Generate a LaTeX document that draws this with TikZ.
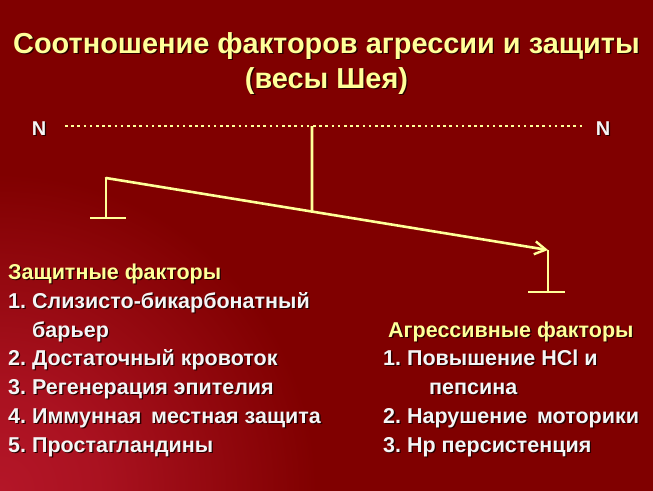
\documentclass[tikz,border=0pt]{standalone}
\usepackage{fontspec}
\setmainfont{Liberation Sans}
\usetikzlibrary{arrows.meta,calc}
\definecolor{bgc}{RGB}{128,0,0}
\definecolor{bgl}{RGB}{180,22,40}
\definecolor{ylw}{RGB}{255,255,153}
\definecolor{wht}{RGB}{245,245,245}
\definecolor{shadowc}{RGB}{40,0,0}
\pgfdeclareradialshading{bgshade}{\pgfpoint{0bp}{0bp}}{color(0bp)=(bgl); color(7bp)=(bgl!80!bgc); color(22bp)=(bgc); color(25bp)=(bgc); color(50bp)=(bgc)}
\newcommand\shd[1]{\leavevmode\rlap{\kern1.3pt\raisebox{-1.3pt}{\color{shadowc}#1}}#1}
\frenchspacing
\tikzset{
  titletext/.style={font=\bfseries\fontsize{28.9}{34}\selectfont, text=ylw, anchor=base, inner sep=0pt},
  bodytext/.style={font=\bfseries\fontsize{21.5}{28.8}\selectfont, text=wht, anchor=base west, inner sep=0pt},
  headtext/.style={bodytext, text=ylw},
  ntext/.style={font=\bfseries\fontsize{20}{24}\selectfont, text=wht, anchor=base, inner sep=0pt},
  beam/.style={draw=ylw, line width=2.6pt},
  dotline/.style={draw=ylw, line width=2.5pt, dash pattern=on 2.5pt off 3.7pt}
}
\begin{document}
\begin{tikzpicture}[x=1pt,y=-1pt]
\useasboundingbox (0,0) rectangle (653,490);
% background
\path[fill=bgc] (-6,-6) rectangle (659,496);
\begin{scope}
  \clip (-6,-6) rectangle (659,496);
  \shade[shading=bgshade] (-360,130) rectangle (360,850);
\end{scope}

% title
\node[titletext] (title1) at (326.5,53) {\shd{Соотношение факторов агрессии и защиты}};
\node[titletext] (title2) at (326.5,88) {\shd{(весы Шея)}};

% N labels and dotted line
\node[ntext] (nL) at (39,135) {\shd{N}};
\node[ntext] (nR) at (603,135) {\shd{N}};
\coordinate (dL) at (65,126);
\coordinate (dR) at (584,126);
\draw[dotline] (dL) -- (dR);

% balance
\coordinate (bL) at (106,178);
\coordinate (bR) at (548,250);
\coordinate (pivTop) at (312,126);
\coordinate (pivBot) at ($(bL)!{(312-106)/442}!(bR)$);
\coordinate (lFoot) at (106,218);
\coordinate (lFootA) at (90,218);
\coordinate (lFootB) at (126,218);
\coordinate (rFoot) at (548,292);
\coordinate (rFootA) at (528,292);
\coordinate (rFootB) at (565,292);

\draw[beam] (pivTop) -- (pivBot);
\draw[beam, line cap=round, -{Straight Barb[length=11pt,width=13pt,line width=2.4pt]}] (bL) -- (bR);
\draw[beam] (lFoot) -- (bL);
\draw[beam] (lFootA) -- (lFootB);
\draw[beam] (bR) -- (rFoot);
\draw[beam] (rFootA) -- (rFootB);

% left list
\node[headtext] (lh) at (8,279) {\shd{Защитные факторы}};
\node[bodytext] (l1) at (8,308) {\shd{1. Слизисто-бикарбонатный}};
\node[bodytext] (l1b) at (32,337) {\shd{барьер}};
\node[bodytext] (l2) at (8,365) {\shd{2. Достаточный кровоток}};
\node[bodytext] (l3) at (8,394) {\shd{3. Регенерация эпителия}};
\node[bodytext] (l4) at (8,423) {\shd{4. Иммунная\hspace{0.45em}местная защита}};
\node[bodytext] (l5) at (8,452) {\shd{5. Простагландины}};

% right list
\node[headtext] (rh) at (388,337) {\shd{Агрессивные факторы}};
\node[bodytext] (r1) at (383,365) {\shd{1. Повышение HCl и}};
\node[bodytext] (r1b) at (429,394) {\shd{пепсина}};
\node[bodytext] (r2) at (383,423) {\shd{2. Нарушение\hspace{0.45em}моторики}};
\node[bodytext] (r3) at (383,452) {\shd{3. Нр персистенция}};
\end{tikzpicture}
\end{document}
